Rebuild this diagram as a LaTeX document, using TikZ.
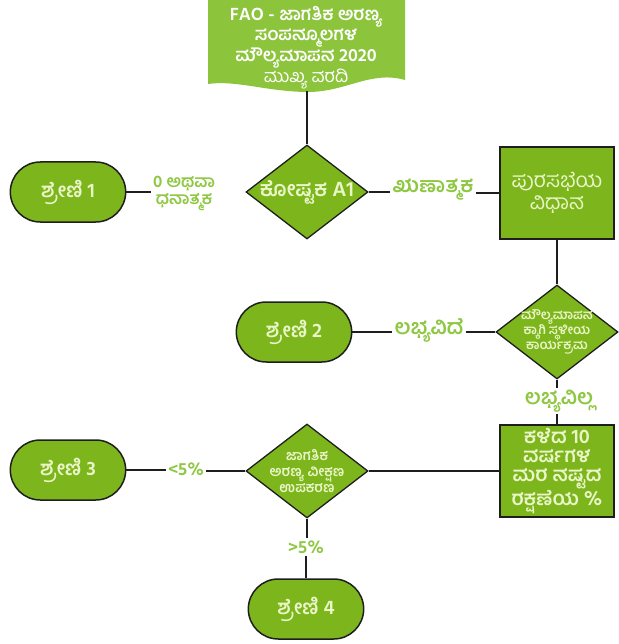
\documentclass[tikz,border=0pt]{standalone}
\usepackage{fontspec}
\newfontfamily\kn[Script=Kannada]{Hind Mysuru}
\usetikzlibrary{shapes.geometric,shapes.misc}
\definecolor{gfill}{HTML}{7DB61C}
\definecolor{docfill}{HTML}{8CC43C}
\definecolor{intext}{HTML}{EAF5C8}
\definecolor{labtext}{HTML}{8EC741}
\definecolor{edgec}{HTML}{1E1E1E}
\begin{document}
\begin{tikzpicture}[x=1pt,y=-1pt,
  stadium/.style={rounded rectangle, draw=edgec, line width=1.5pt, fill=gfill,
    minimum width=122pt, minimum height=60pt, text=intext,
    font=\kn\bfseries\fontsize{20}{22}\selectfont},
  decision/.style={diamond, draw=edgec, line width=1.3pt, fill=gfill,
    minimum width=122pt, minimum height=94pt, inner sep=0pt},
  dtext/.style={text=intext, align=center, inner sep=0pt},
  process/.style={rectangle, draw=edgec, line width=1.5pt, fill=gfill,
    minimum width=114pt, minimum height=92pt, text=intext, align=center},
  lab/.style={text=labtext, inner sep=2pt, align=center,
    font=\kn\bfseries\fontsize{21}{22}\selectfont},
  conn/.style={draw=edgec, line width=1.2pt}]
\useasboundingbox (0,0) rectangle (618,644);

% top document shape
\fill[docfill] (208,0) -- (405,0) -- (405,80)
  .. controls (370,70) and (345,93) .. (305,92)
  .. controls (265,91) and (235,80) .. (208,84) -- cycle;
\node[text=white, align=center, font=\kn\bfseries\fontsize{18}{16.5}\selectfont] (doc) at (306,48)
  {FAO - ಜಾಗತಿಕ ಅರಣ್ಯ\\ಸಂಪನ್ಮೂಲಗಳ\\ಮೌಲ್ಯಮಾಪನ 2020\\{\mdseries ಮುಖ್ಯ ವರದಿ}};
\coordinate (docb) at (307,91);

% nodes
\node[decision] (a1) at (307,192) {};
\node[dtext, font=\kn\bfseries\fontsize{21}{22}\selectfont] (a1t) at (a1.center) {ಕೋಷ್ಟಕ A1};
\node[stadium] (s1) at (68,192) {ಶ್ರೇಣಿ 1};
\node[lab, font=\kn\bfseries\fontsize{17}{17}\selectfont] (l0) at (184,193) {0 ಅಥವಾ\\ಧನಾತ್ಮಕ};
\node[lab] (lneg) at (433,190) {ಋಣಾತ್ಮಕ};
\node[process, font=\kn\fontsize{21}{22}\selectfont] (p1) at (557,193) {ಪುರಸಭೆಯ\\ವಿಧಾನ};

\node[decision] (d2) at (557,332) {};
\node[dtext, font=\kn\bfseries\fontsize{13}{15}\selectfont] (d2t) at (d2.center)
  {ಮೌಲ್ಯಮಾಪನ\\ಕ್ಕಾಗಿ ಸ್ಥಳೀಯ\\ಕಾರ್ಯಕ್ರಮ};
\node[stadium] (s2) at (294,332) {ಶ್ರೇಣಿ 2};
\node[lab] (lyes) at (429,330) {ಲಭ್ಯವಿದೆ};
\node[lab] (lno) at (559,401) {ಲಭ್ಯವಿಲ್ಲ};

\node[process, font=\kn\bfseries\fontsize{20}{19}\selectfont] (p2) at (557,471)
  {ಕಳೆದ 10\\ವರ್ಷಗಳ\\ಮರ ನಷ್ಟದ\\ರಕ್ಷಣೆಯ \%};
\node[decision] (d3) at (307,471) {};
\node[dtext, font=\kn\bfseries\fontsize{14}{16}\selectfont] (d3t) at (d3.center)
  {ಜಾಗತಿಕ\\ಅರಣ್ಯ ವೀಕ್ಷಣ\\ಉಪಕರಣ};
\node[stadium] (s3) at (68,470) {ಶ್ರೇಣಿ 3};
\node[lab, font=\kn\bfseries\fontsize{18}{18}\selectfont] (llt) at (186,469) {<5\%};
\node[lab, font=\kn\bfseries\fontsize{18}{18}\selectfont] (lgt) at (306,547) {>5\%};
\node[stadium] (s4) at (306,609) {ಶ್ರೇಣಿ 4};

% connectors
\draw[conn] (docb) -- (a1.north);
\draw[conn] (s1.east) -- (l0.west |- s1.east);
\draw[conn] (a1.east) -- (lneg.west |- a1.east);
\draw[conn] (lneg.east |- p1.west) -- (p1.west);
\draw[conn] (p1.south) -- (d2.north);
\draw[conn] (s2.east) -- (lyes.west |- s2.east);
\draw[conn] (lyes.east |- d2.west) -- (d2.west);
\draw[conn] (d2.south) -- (lno.north -| d2.south);
\draw[conn] (lno.south -| p2.north) -- (p2.north);
\draw[conn] (d3.east) -- (p2.west);
\draw[conn] (s3.east) -- (llt.west |- s3.east);
\draw[conn] (llt.east |- d3.west) -- (d3.west);
\draw[conn] (d3.south) -- (lgt.north -| d3.south);
\draw[conn] (lgt.south -| s4.north) -- (s4.north);
\end{tikzpicture}
\end{document}
